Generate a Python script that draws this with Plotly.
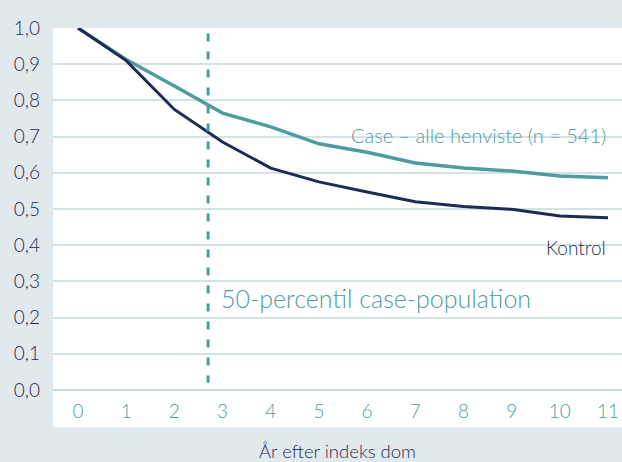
import plotly.graph_objects as go

years = list(range(12))
case_vals = [1.0, 0.913, 0.84, 0.765, 0.727, 0.68, 0.657, 0.627, 0.613, 0.605, 0.591, 0.586]
kontrol_vals = [1.0, 0.91, 0.775, 0.685, 0.613, 0.575, 0.547, 0.52, 0.507, 0.499, 0.481, 0.476]
y_ticks = [0.0, 0.1, 0.2, 0.3, 0.4, 0.5, 0.6, 0.7, 0.8, 0.9, 1.0]
median_year = 2.7

teal = "#4f9ca0"
navy = "#1e2b55"
label_navy = "#1f2b52"
bg = "#e2e9ed"
grid = "#d4e3e6"
font_family = "Lato"

fig = go.Figure()

fig.add_trace(go.Scatter(
    x=years, y=case_vals, mode="lines",
    line=dict(color=teal, width=3.5), cliponaxis=False, showlegend=False))
fig.add_trace(go.Scatter(
    x=years, y=kontrol_vals, mode="lines",
    line=dict(color=navy, width=3), cliponaxis=False, showlegend=False))

# median line
fig.add_trace(go.Scatter(
    x=[median_year, median_year], y=[0.985, 0.02], mode="lines",
    line=dict(color=teal, width=3, dash="8px,10px"), showlegend=False))

# white panel behind plot + x tick labels
fig.add_shape(type="rect", xref="paper", yref="paper",
              x0=0, x1=1, y0=-0.102, y1=1.0,
              fillcolor="white", line_width=0, layer="below")

fig.add_annotation(x=11.0, y=0.704, text="Case – alle henviste (n = 541)",
                   showarrow=False, xanchor="right", yanchor="middle",
                   font=dict(size=20, color=teal, family=font_family, weight=300))
fig.add_annotation(x=11.0, y=0.395, text="Kontrol",
                   showarrow=False, xanchor="right", yanchor="middle",
                   font=dict(size=19, color=label_navy, family=font_family, weight=300))
fig.add_annotation(x=2.93, y=0.255, text="50-percentil case-population",
                   showarrow=False, xanchor="left", yanchor="middle",
                   font=dict(size=25, color=teal, family=font_family, weight=300))

fig.update_layout(
    width=622, height=462,
    margin=dict(l=53, r=0, t=28, b=72),
    paper_bgcolor=bg,
    plot_bgcolor="rgba(0,0,0,0)",
    separators=",.",
    font=dict(family=font_family, weight=300),
    xaxis=dict(
        range=[-0.519, 11.29],
        tickvals=years,
        showgrid=False, zeroline=False, showline=False,
        tickfont=dict(size=19, color=teal, weight=300),
        ticklabelstandoff=8,
        title=dict(text="År efter indeks dom",
                   font=dict(size=18.5, color=label_navy, weight=300), standoff=26),
    ),
    yaxis=dict(
        range=[0, 1.0],
        tickvals=y_ticks, tickformat=".1f",
        showgrid=True, gridcolor=grid, gridwidth=2,
        zeroline=True, zerolinecolor="#c9d9dd", zerolinewidth=2,
        showline=False,
        tickfont=dict(size=19, color=label_navy, weight=300),
        ticklabelstandoff=12,
    ),
)

fig.write_html("out.html", config={"displayModeBar": False},
               post_script="document.body.style.margin='0';"
                           "document.body.style.overflow='hidden';")
